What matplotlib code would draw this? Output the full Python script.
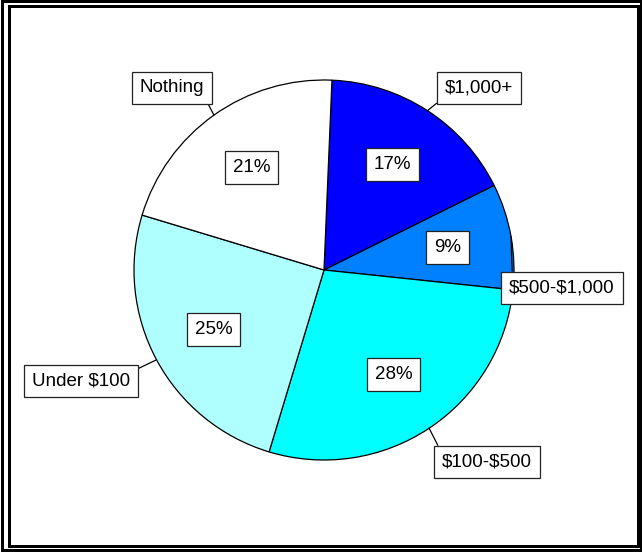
import numpy as np
import matplotlib
matplotlib.use('Agg')
import matplotlib.pyplot as plt
from matplotlib.patches import Rectangle

# Data
labels = ['$1,000+', '$500-$1,000', '$100-$500', 'Under $100', 'Nothing']
shares = [17, 9, 28, 25, 21]
colors = ['#0000FF', '#0080FF', '#00FFFF', '#AFFFFF', '#FFFFFF']
# where the category boxes sit (data units, pie radius = 1)
label_pos = [(0.816, 0.958), (1.253, -0.095), (0.858, -1.011),
             (-1.279, -0.584), (-0.80, 0.958)]
# which point of the box the leader line leaves from
leader_from = [(0, 0), (0.03, 1), (0, 1), (1, 1), (1, 0)]

plt.rcParams['font.family'] = ['Liberation Sans', 'DejaVu Sans']

W, H = 642, 552
fig = plt.figure(figsize=(W / 100, H / 100), dpi=100)
ax = fig.add_axes([0, 0, 1, 1])

box = dict(boxstyle='square,pad=0.42', fc='white', ec='#222222', lw=0.9)
fs = 13.5

wedges, texts, autotexts = ax.pie(
    shares, colors=colors, startangle=87.6, counterclock=False,
    autopct='%d%%', pctdistance=0.66,
    wedgeprops=dict(edgecolor='black', linewidth=0.9),
    textprops=dict(fontsize=fs, color='black'))
for t in autotexts:
    t.set_bbox(dict(box, pad=0.38))

# category labels with leader lines
for w, lab, pos, rp in zip(wedges, labels, label_pos, leader_from):
    ang = np.deg2rad((w.theta1 + w.theta2) / 2)
    xy = (np.cos(ang), np.sin(ang))
    ax.annotate(lab, xy=xy, xytext=pos, ha='center', va='center',
                fontsize=fs, bbox=box, parse_math=False,
                arrowprops=dict(arrowstyle='-', color='black', lw=0.9,
                                shrinkA=0, shrinkB=0, relpos=rp))

cx, cy, r = 324, 270, 190
ax.set_xlim(-cx / r, (W - cx) / r)
ax.set_ylim((cy - H) / r, cy / r)
ax.set_aspect('auto')
ax.axis('off')

# double frame around the figure
def frame(x0, y0, x1, y1, lw_px):
    fig.patches.append(Rectangle((x0 / W, 1 - y1 / H), (x1 - x0) / W, (y1 - y0) / H,
                                 transform=fig.transFigure, fill=False,
                                 ec='black', lw=lw_px * 0.72))

frame(2, 1.3, 641, 550.3, 3)
frame(8.5, 6, 637.7, 545.7, 3)

fig.savefig('out.png', dpi=100)
